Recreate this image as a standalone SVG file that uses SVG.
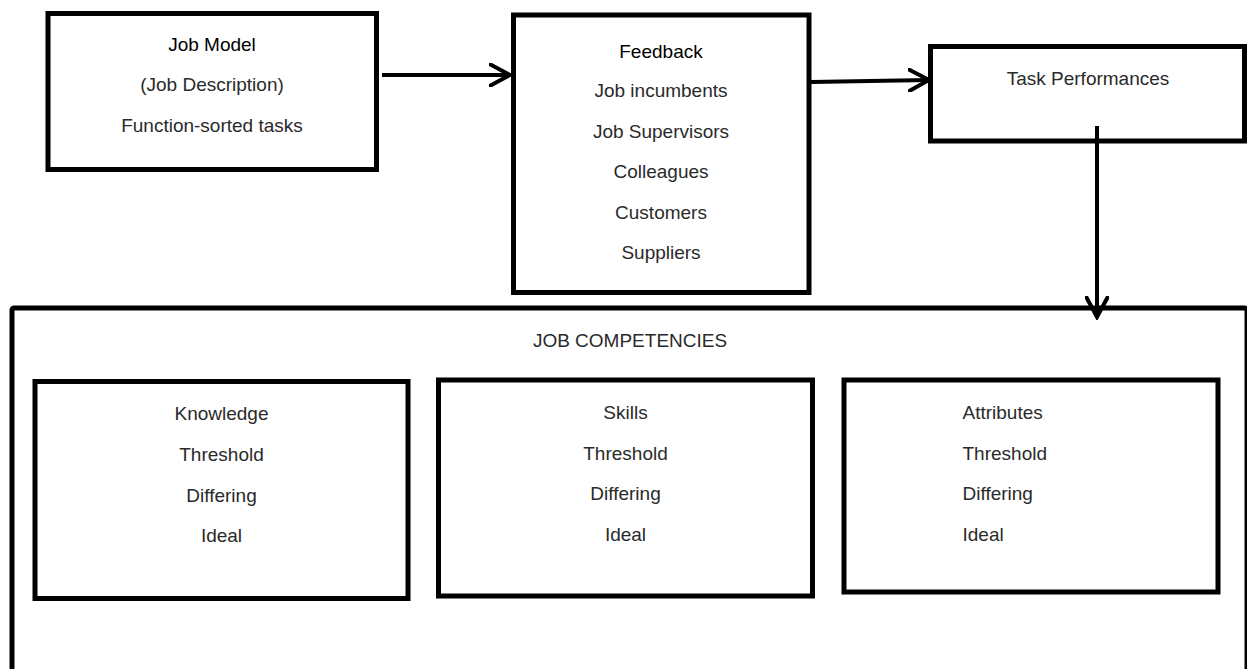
<svg xmlns="http://www.w3.org/2000/svg" width="1247" height="669" viewBox="0 0 1247 669">
<style>
.box{fill:#fff;stroke:#000;stroke-width:5}
.t{font-family:"Liberation Sans",Arial,sans-serif;font-size:19px;fill:#2a2a2a;text-anchor:middle}
.h{fill:#000}
.l{text-anchor:start}
.c{fill:none;stroke:#000;stroke-width:4}
</style>
<defs>
<marker id="ah" viewBox="0 0 24 24" refX="21" refY="12" markerWidth="24" markerHeight="24" markerUnits="userSpaceOnUse" orient="auto">
<path d="M1.5,1.5 L21,12 L1.5,22.5" fill="none" stroke="#000" stroke-width="4" stroke-linecap="round" stroke-linejoin="miter"/>
</marker>
</defs>
<rect width="1247" height="669" fill="#fff"/>
<g id="job-competencies">
<rect class="box" x="12" y="308" width="1235" height="420" rx="2"/>
<text class="t" x="630" y="347">JOB COMPETENCIES</text>
</g>
<g id="job-model">
<rect class="box" x="48" y="13.5" width="328.5" height="156"/>
<text class="t h" x="212" y="51">Job Model</text>
<text class="t" x="212" y="91">(Job Description)</text>
<text class="t" x="212" y="132">Function-sorted tasks</text>
</g>
<g id="feedback">
<rect class="box" x="513.5" y="15" width="295.5" height="277.5"/>
<text class="t h" x="661" y="58">Feedback</text>
<text class="t" x="661" y="97">Job incumbents</text>
<text class="t" x="661" y="137.5">Job Supervisors</text>
<text class="t" x="661" y="178">Colleagues</text>
<text class="t" x="661" y="218.5">Customers</text>
<text class="t" x="661" y="259">Suppliers</text>
</g>
<g id="task-performances">
<rect class="box" x="930.5" y="46.5" width="314" height="94.5"/>
<text class="t" x="1088" y="85">Task Performances</text>
</g>
<g id="knowledge">
<rect class="box" x="35" y="381.5" width="373" height="217"/>
<text class="t" x="221.5" y="420">Knowledge</text>
<text class="t" x="221.5" y="461">Threshold</text>
<text class="t" x="221.5" y="501.5">Differing</text>
<text class="t" x="221.5" y="542">Ideal</text>
</g>
<g id="skills">
<rect class="box" x="438.5" y="380" width="374" height="216"/>
<text class="t" x="625.5" y="419">Skills</text>
<text class="t" x="625.5" y="460">Threshold</text>
<text class="t" x="625.5" y="500">Differing</text>
<text class="t" x="625.5" y="540.5">Ideal</text>
</g>
<g id="attributes">
<rect class="box" x="844" y="380" width="374" height="212"/>
<text class="t l" x="962.5" y="419">Attributes</text>
<text class="t l" x="962.5" y="460">Threshold</text>
<text class="t l" x="962.5" y="500">Differing</text>
<text class="t l" x="962.5" y="540.5">Ideal</text>
</g>
<g id="connectors">
<line class="c" x1="382" y1="75" x2="510" y2="75" marker-end="url(#ah)"/>
<line class="c" x1="811" y1="82" x2="929" y2="80" marker-end="url(#ah)"/>
<line class="c" x1="1097" y1="126" x2="1097" y2="317" stroke-width="4.5" marker-end="url(#ah)"/>
</g>
</svg>
